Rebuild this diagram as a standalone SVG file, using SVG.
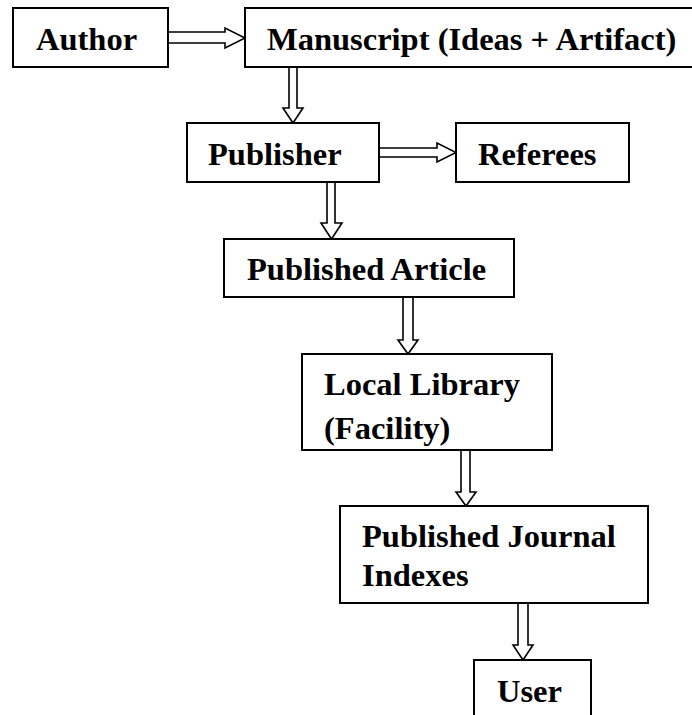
<svg xmlns="http://www.w3.org/2000/svg" width="692" height="715" viewBox="0 0 692 715">
<style>
.box{fill:#fff;stroke:#000;stroke-width:2}
.lbl{font-family:"Liberation Serif","Times New Roman",serif;font-weight:bold;font-size:32.5px;fill:#000}
.arr{fill:#fff;stroke:#000;stroke-width:1.6;stroke-linejoin:miter}
</style>
<rect width="692" height="715" fill="#fff"/>
<g id="connectors">
<polygon class="arr" points="168,32 225,32 225,28 245,38 225,48 225,43 168,43"/>
<polygon class="arr" points="289,67 289,108 283,108 293,123 303,108 297,108 297,67"/>
<polygon class="arr" points="379,148 437,148 437,143 456,152.5 437,162 437,157 379,157"/>
<polygon class="arr" points="327,182 327,223 321,223 331.5,239 342,223 335,223 335,182"/>
<polygon class="arr" points="403,297 403,340 398,340 408,354 418,340 413,340 413,297"/>
<polygon class="arr" points="461,450 461,492 456,492 466,506 476,492 470,492 470,450"/>
<polygon class="arr" points="518,603 518,645 513,645 523,660 533,645 528,645 528,603"/>
</g>
<g id="author">
<rect class="box" x="13" y="8" width="155" height="59"/>
<text class="lbl" x="36" y="50">Author</text>
</g>
<g id="manuscript">
<rect class="box" x="245" y="8" width="450" height="59"/>
<text class="lbl" x="267" y="50">Manuscript (Ideas + Artifact)</text>
</g>
<g id="publisher">
<rect class="box" x="187" y="123" width="192" height="59"/>
<text class="lbl" x="208" y="165">Publisher</text>
</g>
<g id="referees">
<rect class="box" x="456" y="123" width="173" height="59"/>
<text class="lbl" x="478" y="165">Referees</text>
</g>
<g id="published-article">
<rect class="box" x="224" y="239" width="290" height="58"/>
<text class="lbl" x="247" y="280">Published Article</text>
</g>
<g id="local-library">
<rect class="box" x="302" y="354" width="250" height="96"/>
<text class="lbl" x="324" y="395">Local Library</text>
<text class="lbl" x="324" y="439">(Facility)</text>
</g>
<g id="journal-indexes">
<rect class="box" x="340" y="506" width="308" height="97"/>
<text class="lbl" x="362" y="547">Published Journal</text>
<text class="lbl" x="362" y="586">Indexes</text>
</g>
<g id="user">
<rect class="box" x="474" y="660" width="117" height="70"/>
<text class="lbl" x="497" y="702">User</text>
</g>
</svg>
